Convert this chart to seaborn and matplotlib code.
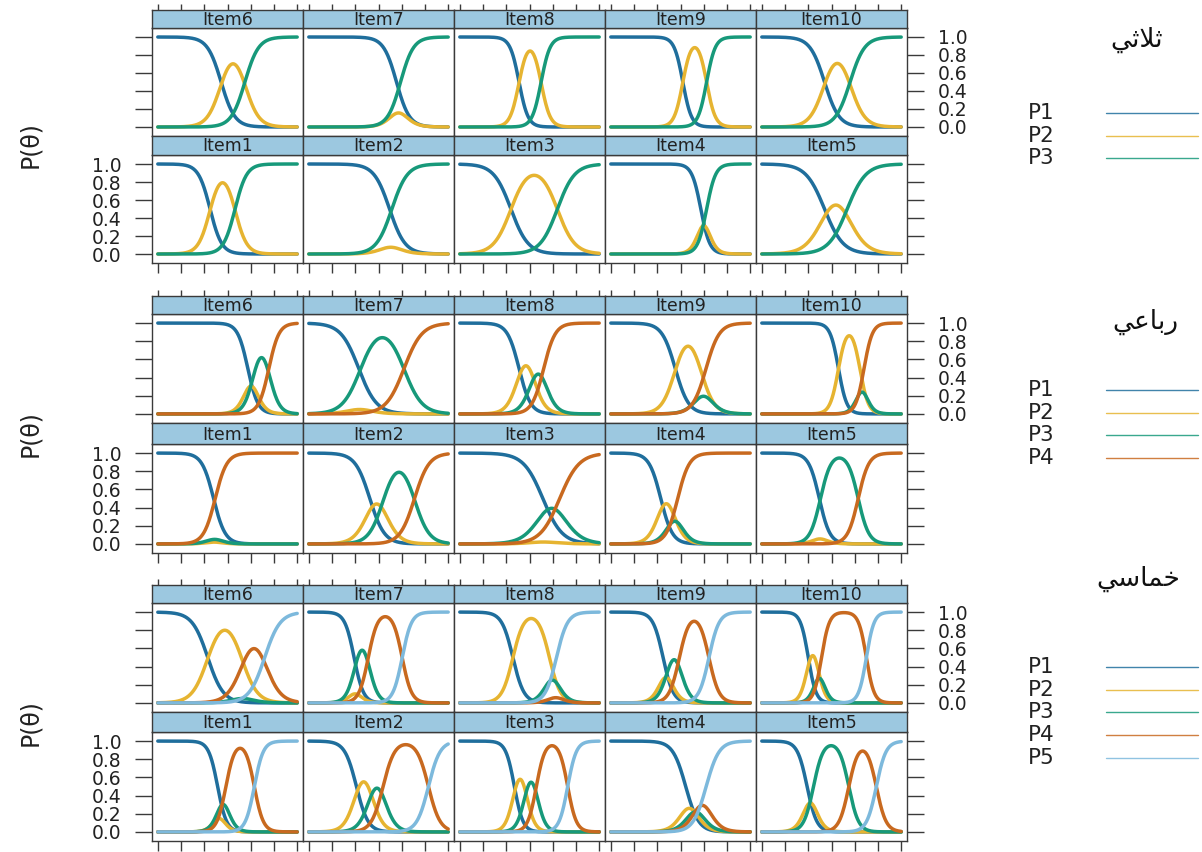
import numpy as np
import pandas as pd
import matplotlib
matplotlib.use("Agg")
import matplotlib.pyplot as plt
from matplotlib.lines import Line2D
import seaborn as sns

#### Data: graded response model item parameters
# lattice order: top row Item6..Item10, bottom row Item1..Item5
top_items = ["Item6", "Item7", "Item8", "Item9", "Item10"]
bottom_items = ["Item1", "Item2", "Item3", "Item4", "Item5"]
categories = ["P1", "P2", "P3", "P4", "P5"]

# 3 categories (Item1..Item10)
slopes_3 = [2.0, 1.5, 1.35, 2.6, 1.25, 1.7, 1.8, 2.6, 2.7, 1.6]
thresholds_3 = [[-1.5, 0.65], [0.95, 1.15], [-1.6, 2.4], [1.75, 2.25], [-0.6, 1.35],
                [-0.55, 1.5], [1.55, 1.9], [-0.9, 1.0], [0.2, 2.25], [-0.6, 1.6]]

# 4 categories
slopes_4 = [2.0, 1.6, 1.2, 2.0, 2.2, 2.3, 1.3, 2.0, 1.75, 2.8]
thresholds_4 = [[-1.2, -1.16, -1.06], [-0.75, 0.43, 3.1], [1.15, 1.22, 2.6],
                [-1.7, -0.75, -0.24], [-1.05, -0.95, 2.3], [1.75, 2.3, 3.56],
                [-1.7, -1.55, 2.2], [-0.9, 0.28, 1.22], [-0.45, 1.75, 2.2],
                [0.6, 2.45, 2.8]]

# 5 categories
slopes_5 = [2.6, 2.0, 2.7, 1.8, 2.4, 1.5, 2.5, 2.1, 2.3, 3.0]
thresholds_5 = [[-0.85, -0.62, -0.14, 2.31], [-1.9, -0.66, 0.39, 4.3],
                [-1.3, -0.32, 0.59, 3.29], [0.45, 1.04, 1.54, 2.21],
                [-2.1, -1.55, 1.49, 3.86], [-1.7, 1.23, 1.36, 3.2],
                [-2.1, -1.94, -0.88, 2.04], [-1.43, 1.72, 2.21, 2.32],
                [-1.5, -1.0, -0.1, 2.45], [-2.0, -1.23, -0.86, 3.0]]

# legend titles (Arabic, written in presentation forms so they show joined)
title_3 = "\uFEF2\uFE9B\uFEFC\uFE9B"          # ثلاثي
title_4 = "\uFEF2\uFECB\uFE8E\uFE91\uFEAD"    # رباعي
title_5 = "\uFEF2\uFEB3\uFE8E\uFEE4\uFEA7"    # خماسي

theta = np.linspace(-6, 6, 241)
x_ticks = [-6, -4, -2, 0, 2, 4, 6]
y_ticks = [0.0, 0.2, 0.4, 0.6, 0.8, 1.0]

cat_colors = ["#1f6e9c", "#e6b431", "#17997a", "#c8691f", "#7db9dc"]
strip_color = "#9cc8e0"
edge = "#3a3a3a"

sns.set_theme(style="white")
plt.rcParams["font.family"] = ["DejaVu Sans"]

W, H = 1202, 852
fig = plt.figure(figsize=(W / 100, H / 100), dpi=100)


def fr(x, y, w, h):
    # pixel box (top-left origin) -> figure fraction
    return [x / W, 1 - (y + h) / H, w / W, h / H]


def grm_curves(a, b):
    cum = [np.ones_like(theta)]
    for bk in b:
        cum.append(1 / (1 + np.exp(-a * (theta - bk))))
    cum.append(np.zeros_like(theta))
    rows = []
    for k in range(len(b) + 1):
        rows.append(pd.DataFrame({"theta": theta, "P": cum[k] - cum[k + 1],
                                  "cat": categories[k]}))
    return pd.concat(rows, ignore_index=True)


blocks = [(slopes_3, thresholds_3, title_3),
          (slopes_4, thresholds_4, title_4),
          (slopes_5, thresholds_5, title_5)]

# layout in pixels
col_left = [152, 303, 454, 605, 756]
col_w = 151
panel1_top = [28, 314, 603]
panel2_top = [155, 444, 732]
panel_h = [108, 109, 109]
strip_h = 18
ylab_y = [145, 434, 723]
title_pos = [(1137, 40), (1145, 322), (1138, 579)]
legend_y0 = [113, 390, 667]

for bi, (slopes, thr, title) in enumerate(blocks):
    ncat = len(thr[0]) + 1
    pal = dict(zip(categories[:ncat], cat_colors[:ncat]))
    for r, names in enumerate([top_items, bottom_items]):
        ptop = panel1_top[bi] if r == 0 else panel2_top[bi]
        ph = panel_h[bi]
        if r == 0:
            s_top, s_h = ptop - strip_h, strip_h
        else:
            s_top = panel1_top[bi] + ph
            s_h = ptop - s_top
        for c, name in enumerate(names):
            idx = int(name.replace("Item", "")) - 1
            df = grm_curves(slopes[idx], thr[idx])

            ax = fig.add_axes(fr(col_left[c], ptop, col_w, ph))
            sns.lineplot(data=df, x="theta", y="P", hue="cat", palette=pal,
                         linewidth=2.5, legend=False, ax=ax)
            ax.set_xlim(-6.5, 6.5)
            ax.set_ylim(-0.1, 1.1)
            ax.set_xlabel("")
            ax.set_ylabel("")
            ax.set_facecolor("white")
            for sp in ax.spines.values():
                sp.set_color(edge)
                sp.set_linewidth(1.0)
            ax.set_xticks(x_ticks)
            ax.set_yticks(y_ticks)
            ax.set_yticklabels(["%.1f" % v for v in y_ticks])
            ax.tick_params(axis="x", bottom=(r == 1), top=False, labelbottom=False,
                           direction="out", length=7, width=1, color=edge)
            ax.tick_params(axis="y", left=(c == 0), right=(c == 4),
                           labelleft=(c == 0 and r == 1),
                           labelright=(c == 4 and r == 0),
                           direction="out", length=12, width=1, color=edge,
                           labelsize=13.5, labelcolor="#222222")
            ax.tick_params(axis="y", which="major", pad=10)

            sax = fig.add_axes(fr(col_left[c], s_top, col_w, s_h))
            sax.set_facecolor(strip_color)
            sax.set_xlim(-6.5, 6.5)
            sax.set_yticks([])
            sax.set_xticks(x_ticks)
            sax.tick_params(axis="x", bottom=False, top=(r == 0), labelbottom=False,
                            labeltop=False, direction="out", length=4, width=1,
                            color=edge)
            for sp in sax.spines.values():
                sp.set_color(edge)
                sp.set_linewidth(1.0)
            sax.text(0.5, 0.45, name, transform=sax.transAxes, ha="center",
                     va="center", fontsize=12.5, color="#222222")

    # y axis label
    fig.text(30 / W, 1 - ylab_y[bi] / H, "P(\u03b8)", rotation=90, ha="center",
             va="center", fontsize=17, color="#222222")

    # legend on the right
    tx, ty = title_pos[bi]
    fig.text(tx / W, 1 - ty / H, title, ha="center", va="center", fontsize=19,
             color="#111111")
    for k in range(ncat):
        yy = legend_y0[bi] + 22.7 * k
        fig.text(1028 / W, 1 - yy / H, categories[k], ha="left", va="center",
                 fontsize=15.5, color="#222222")
        fig.add_artist(Line2D([1106 / W, 1198 / W], [1 - yy / H, 1 - yy / H],
                              color=cat_colors[k], linewidth=1.0, alpha=0.85))

fig.savefig("out.png", dpi=100)
